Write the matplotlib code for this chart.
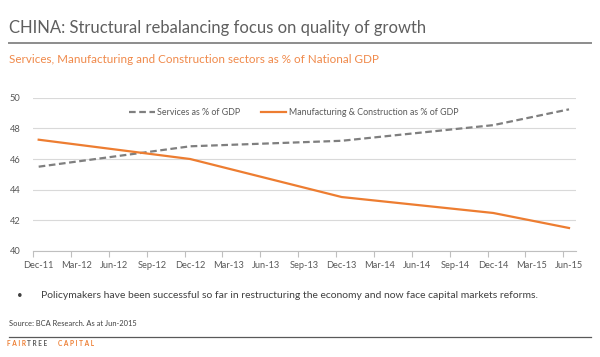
import matplotlib
matplotlib.use("Agg")
import matplotlib.pyplot as plt
from matplotlib.lines import Line2D

# ---- data ----
quarter_labels = ["Dec-11", "Mar-12", "Jun-12", "Sep-12", "Dec-12", "Mar-13", "Jun-13",
                  "Sep-13", "Dec-13", "Mar-14", "Jun-14", "Sep-14", "Dec-14", "Mar-15", "Jun-15"]
obs_dates = ["Dec-11", "Dec-12", "Dec-13", "Dec-14", "Jun-15"]
services = [45.5, 46.83, 47.19, 48.21, 49.24]
manuf_constr = [47.26, 46.0, 43.52, 42.48, 41.5]
y_ticks = [40, 42, 44, 46, 48, 50]

W, H = 600, 357
fig = plt.figure(figsize=(W / 100, H / 100), dpi=100)
plt.rcParams['font.family'] = ['Lato', 'DejaVu Sans']

def fx(px):
    return px / W

def fy(py):
    return 1 - py / H

ORANGE = "#ED7D31"
GRAY_TXT = "#595959"

# title
fig.text(fx(9), fy(32.5), "CHINA: Structural rebalancing focus on quality of growth",
         fontsize=12.0, color="#5F5F5F", ha="left", va="baseline")
fig.add_artist(Line2D([fx(9), fx(591)], [fy(43.3), fy(43.3)], color="#8C8C8C", lw=1.4))
fig.text(fx(9), fy(63.3), "Services, Manufacturing and Construction sectors as % of National GDP",
         fontsize=8.35, color="#F0894A", ha="left", va="baseline")

# axes
ax = fig.add_axes([fx(33), fy(251), fx(576) - fx(33), fy(97.7) - fy(251)])
xpos = {lab: i for i, lab in enumerate(quarter_labels)}
xs = [xpos[d] for d in obs_dates]
ax.plot(xs, services, color="#7F7F7F", lw=1.6, ls=(0, (3, 1.6)), label="Services as % of GDP")
ax.plot(xs, manuf_constr, color=ORANGE, lw=1.6, label="Manufacturing & Construction as % of GDP")

ax.set_ylim(40, 50)
ax.set_yticks(y_ticks)
ax.set_xlim(-5 / 37.93, 14 + 7 / 37.93)
ax.set_xticks(range(len(quarter_labels)))
ax.set_xticklabels(quarter_labels)
ax.set_xticks([i - 0.15 for i in range(len(quarter_labels))], minor=True)
ax.tick_params(axis="x", which="major", length=0, pad=7, labelsize=6.7, labelcolor=GRAY_TXT)
ax.tick_params(axis="x", which="minor", length=4, color="#BFBFBF", width=0.8)
ax.tick_params(axis="y", length=0, pad=9, labelsize=6.7, labelcolor=GRAY_TXT)
ax.grid(axis="y", color="#D9D9D9", lw=0.8)
ax.set_axisbelow(True)
for s in ["top", "right", "left"]:
    ax.spines[s].set_visible(False)
ax.spines["bottom"].set_color("#BFBFBF")
ax.spines["bottom"].set_linewidth(0.8)

leg = ax.legend(loc="upper center", bbox_to_anchor=(0.48, 0.985), ncol=2, frameon=False,
                fontsize=6.4, handlelength=2.9, handletextpad=0.25, columnspacing=2.3,
                labelcolor=GRAY_TXT)

# bullet note
fig.text(fx(17), fy(298), "•", fontsize=7, color="#404040", ha="left", va="baseline")
fig.text(fx(41), fy(298.5),
         "Policymakers have been successful so far in restructuring the economy and now face capital markets reforms.",
         fontsize=7.5, color="#404040", ha="left", va="baseline")

fig.text(fx(9), fy(325.5), "Source: BCA Research. As at Jun-2015", fontsize=5.4,
         color="#404040", ha="left", va="baseline")
fig.add_artist(Line2D([fx(9), fx(591)], [fy(337), fy(337)], color="#595959", lw=0.9))

fig.text(fx(7), fy(346.5), "F A I R", fontsize=4.7, color=ORANGE, ha="left", va="baseline", weight="bold")
fig.text(fx(27), fy(346.5), "T R E E", fontsize=4.7, color="#595959", ha="left", va="baseline", weight="bold")
fig.text(fx(58), fy(346.5), "C A P I T A L", fontsize=4.7, color=ORANGE, ha="left", va="baseline", weight="bold")

fig.savefig("out.png", dpi=100)
